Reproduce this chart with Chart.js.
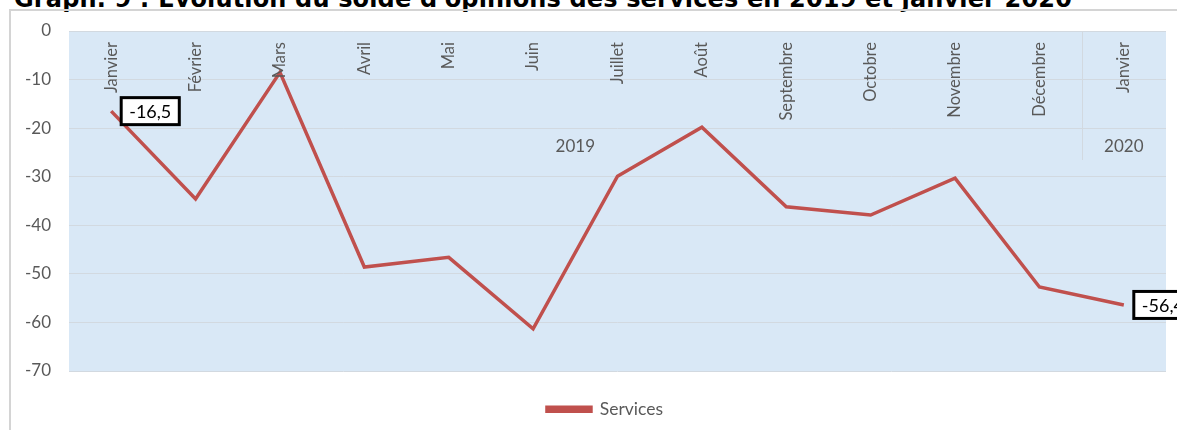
<!DOCTYPE html>
<html><head><meta charset="utf-8">
<script src="https://cdn.jsdelivr.net/npm/chart.js@4/dist/chart.umd.min.js"></script>
<style>
html,body{margin:0;padding:0;background:#fff;overflow:hidden}
#wrap{position:relative;width:1177px;height:430px}
#title{position:absolute;left:14px;top:-13.5px;font:bold 24px 'DejaVu Sans',sans-serif;line-height:24px;color:#000;white-space:nowrap;letter-spacing:0.15px}
#frame{position:absolute;left:9px;top:9px;width:1200px;height:440px;border-left:2px solid #d4d4d4;border-top:2px solid #d4d4d4}
#c{position:absolute;left:0;top:0}
</style></head>
<body><div id="wrap">
<div id="title">Graph. 9 : Évolution du solde d'opinions des services en 2019 et janvier 2020</div>
<div id="frame"></div>
<canvas id="c" width="1177" height="430"></canvas>
</div>
<script>
const months = ["Janvier","Février","Mars","Avril","Mai","Juin","Juillet","Août","Septembre","Octobre","Novembre","Décembre","Janvier"];
const years = ["2019","2020"];
const yearOfMonth = [0,0,0,0,0,0,0,0,0,0,0,0,1];
const services = [-16.5,-34.6,-8.5,-48.6,-46.6,-61.3,-29.9,-19.8,-36.2,-37.9,-30.3,-52.7,-56.4];
const labeledPoints = [0,12];
const yTicks = [0,-10,-20,-30,-40,-50,-60,-70];

const GRAY = '#595959';
const FONT = "Lato, 'Open Sans', sans-serif";

const custom = {
  id:'custom',
  afterLayout(chart){
    if (chart.legend){ chart.legend.left += 22; chart.legend.right += 22; }
  },
  beforeDraw(chart){
    const {ctx, chartArea:a} = chart;
    ctx.save();
    ctx.fillStyle = '#d9e8f6';
    ctx.fillRect(a.left, a.top, a.right-a.left, a.bottom-a.top);
    ctx.restore();
  },
  afterDatasetsDraw(chart){
    const {ctx, chartArea:a, scales} = chart;
    const xs = scales.x;
    ctx.save();
    ctx.fillStyle = GRAY;
    ctx.font = "16.5px " + FONT;
    months.forEach((m,i)=>{
      const x = xs.getPixelForValue(i);
      ctx.save();
      ctx.translate(x, a.top + 11);
      ctx.rotate(-Math.PI/2);
      ctx.textAlign = 'right';
      ctx.textBaseline = 'middle';
      ctx.fillText(m, 0, 0);
      ctx.restore();
    });
    ctx.font = "17px " + FONT;
    ctx.textAlign = 'center';
    ctx.textBaseline = 'middle';
    years.forEach((y,yi)=>{
      const idx = yearOfMonth.map((v,i)=>v===yi?i:-1).filter(i=>i>=0);
      const x = (xs.getPixelForValue(idx[0]) + xs.getPixelForValue(idx[idx.length-1]))/2;
      ctx.fillText(y, x, a.top + 116);
    });
    for (let i=1;i<yearOfMonth.length;i++){
      if (yearOfMonth[i]!==yearOfMonth[i-1]){
        const x = Math.round((xs.getPixelForValue(i-1)+xs.getPixelForValue(i))/2)+0.5;
        ctx.strokeStyle = '#d2d9e0';
        ctx.lineWidth = 1;
        ctx.beginPath(); ctx.moveTo(x, a.top); ctx.lineTo(x, a.top+129); ctx.stroke();
      }
    }
    ctx.restore();
  },
  afterDraw(chart){
    const {ctx} = chart;
    const meta = chart.getDatasetMeta(0);
    ctx.save();
    ctx.font = "18px " + FONT;
    labeledPoints.forEach(i=>{
      const p = meta.data[i];
      const txt = services[i].toFixed(1).replace('.', ',');
      const w = ctx.measureText(txt).width + 16;
      const h = 27;
      const bx = p.x + 10, by = p.y - h/2;
      ctx.fillStyle = '#fff';
      ctx.fillRect(bx, by, w, h);
      ctx.lineWidth = 3;
      ctx.strokeStyle = '#000';
      ctx.strokeRect(bx, by, w, h);
      ctx.fillStyle = '#000';
      ctx.textAlign = 'left';
      ctx.textBaseline = 'middle';
      ctx.fillText(txt, bx + 8, p.y + 1);
    });
    ctx.restore();
  }
};

new Chart(document.getElementById('c'), {
  type:'line',
  data:{
    labels: months,
    datasets:[{
      label:'Services',
      data: services,
      borderColor:'#c0504d',
      backgroundColor:'#c0504d',
      borderWidth:3.5,
      pointRadius:0,
      tension:0
    }]
  },
  options:{
    responsive:false,
    animation:false,
    layout:{padding:{left:0,right:11,top:31,bottom:2}},
    plugins:{
      legend:{
        display:true,
        position:'bottom',
        labels:{
          boxWidth:44, boxHeight:4, padding:10,
          color:GRAY,
          font:{family:FONT, size:17.5}
        }
      },
      tooltip:{enabled:false}
    },
    scales:{
      x:{
        offset:true,
        grid:{display:false},
        border:{display:false},
        ticks:{display:false},
        afterFit(s){ s.height = 19.5; }
      },
      y:{
        min:-70, max:0,
        afterBuildTicks(s){ s.ticks = yTicks.map(v=>({value:v})); },
        afterFit(s){ s.width = 69; },
        grid:{color:'#d2d9e0', drawTicks:false, lineWidth:1},
        border:{display:false},
        ticks:{color:GRAY, padding:18, font:{family:FONT, size:17}}
      }
    }
  },
  plugins:[custom]
});
</script>
</body></html>
